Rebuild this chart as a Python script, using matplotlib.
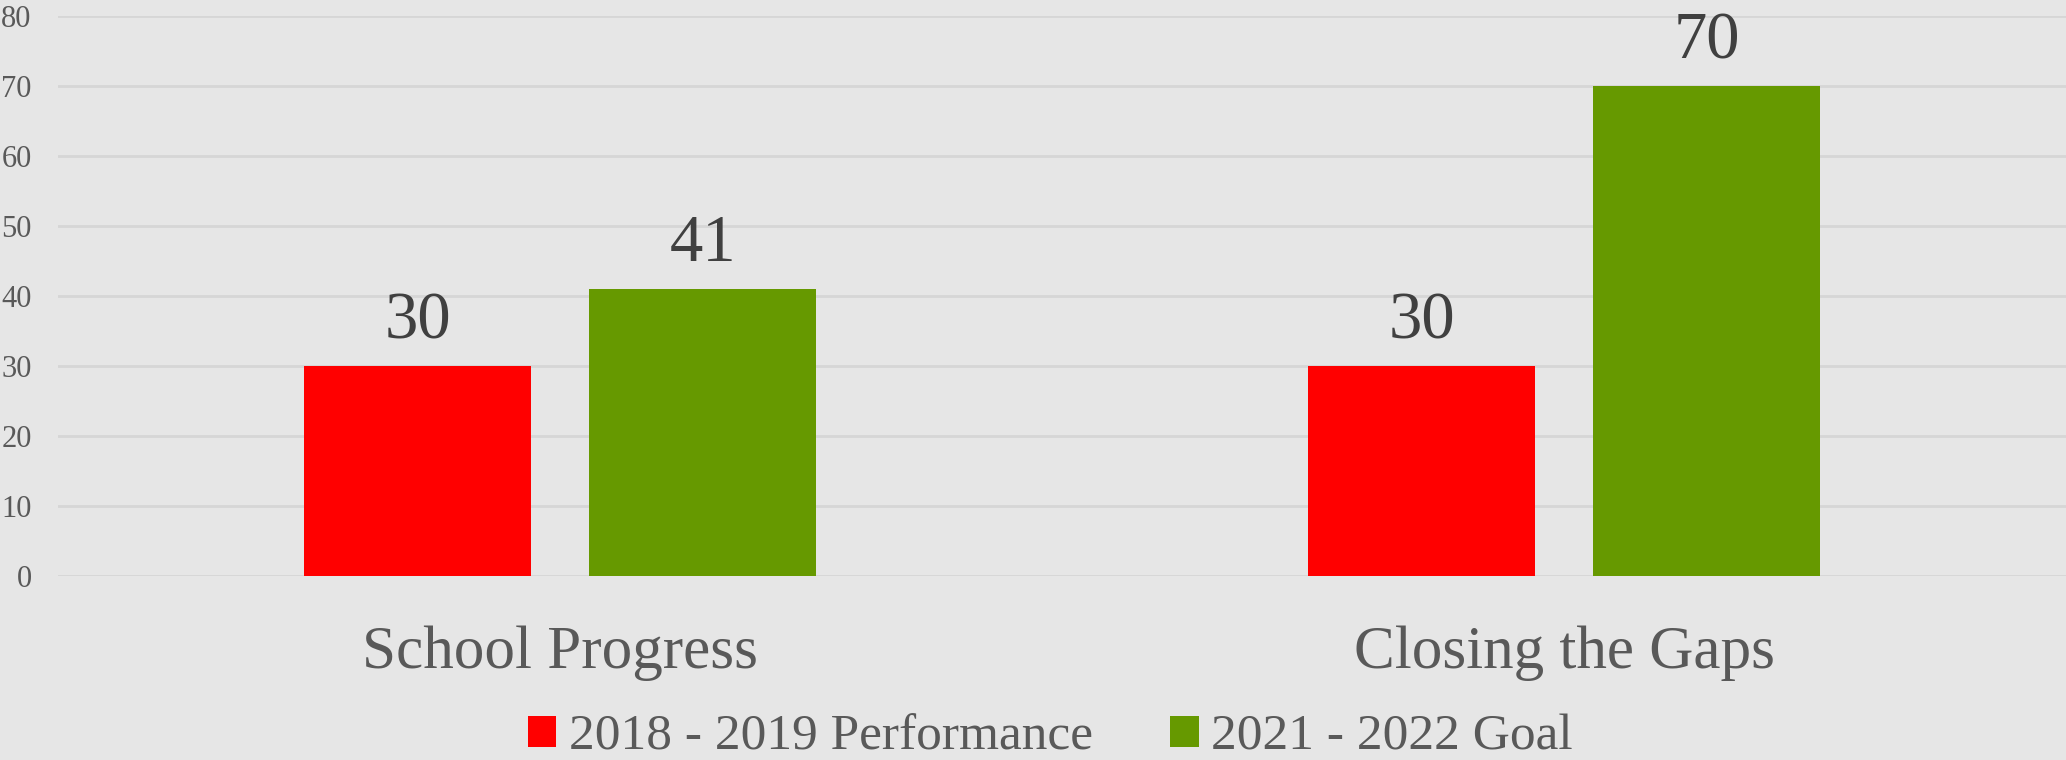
import matplotlib
matplotlib.use("Agg")
import matplotlib.pyplot as plt
from matplotlib.patches import Patch
from matplotlib.transforms import blended_transform_factory
import numpy as np

plt.rcParams["font.family"] = ["Liberation Serif", "DejaVu Serif"]

categories = ["School Progress", "Closing the Gaps"]
series_names = ["2018 - 2019 Performance", "2021 - 2022 Goal"]
performance = [30, 30]
goal = [41, 70]
y_ticks = [0, 10, 20, 30, 40, 50, 60, 70, 80]

BG = "#e6e6e6"
RED = "#ff0000"
GREEN = "#669900"
GRID = "#d6d6d6"
TEXT = "#595959"
LABEL = "#404040"

fig = plt.figure(figsize=(20.66, 7.6), dpi=100, facecolor=BG)
ax = fig.add_axes([0.0281, 0.2421, 0.9719, 0.7368], facecolor=BG)

x = np.arange(len(categories))
width = 0.226
offset = 0.142
bars_a = ax.bar(x - offset, performance, width, color=RED, zorder=3)
bars_b = ax.bar(x + offset, goal, width, color=GREEN, zorder=3)

# value labels above each bar
for bars in (bars_a, bars_b):
    for b in bars:
        h = b.get_height()
        ax.annotate(f"{h:g}", (b.get_x() + b.get_width() / 2, h),
                    xytext=(0, 20), textcoords="offset points",
                    ha="center", va="baseline", fontsize=48, color=LABEL)

ax.set_xlim(-0.5, 1.5)
ax.set_ylim(0, 80)
ax.set_yticks(y_ticks)
ax.tick_params(axis="y", length=0, pad=19, labelsize=22, labelcolor=TEXT)
ax.set_xticks([])
ax.grid(axis="y", color=GRID, linewidth=2, zorder=0)
for s in ax.spines.values():
    s.set_visible(False)

cat_tr = blended_transform_factory(ax.transData, fig.transFigure)
for xi, name in zip(x, categories):
    ax.text(xi, 0.121, name, transform=cat_tr,
            ha="center", va="baseline", fontsize=44, color=TEXT)

handles = [Patch(facecolor=RED, label=series_names[0]),
           Patch(facecolor=GREEN, label=series_names[1])]
fig.legend(handles=handles, loc="lower center", bbox_to_anchor=(0.5085, -0.062),
           ncol=2, frameon=False, fontsize=37, labelcolor=TEXT,
           handlelength=0.55, handleheight=0.55, handletextpad=0.25,
           columnspacing=1.5)

fig.savefig("out.png", dpi=100, facecolor=BG)
